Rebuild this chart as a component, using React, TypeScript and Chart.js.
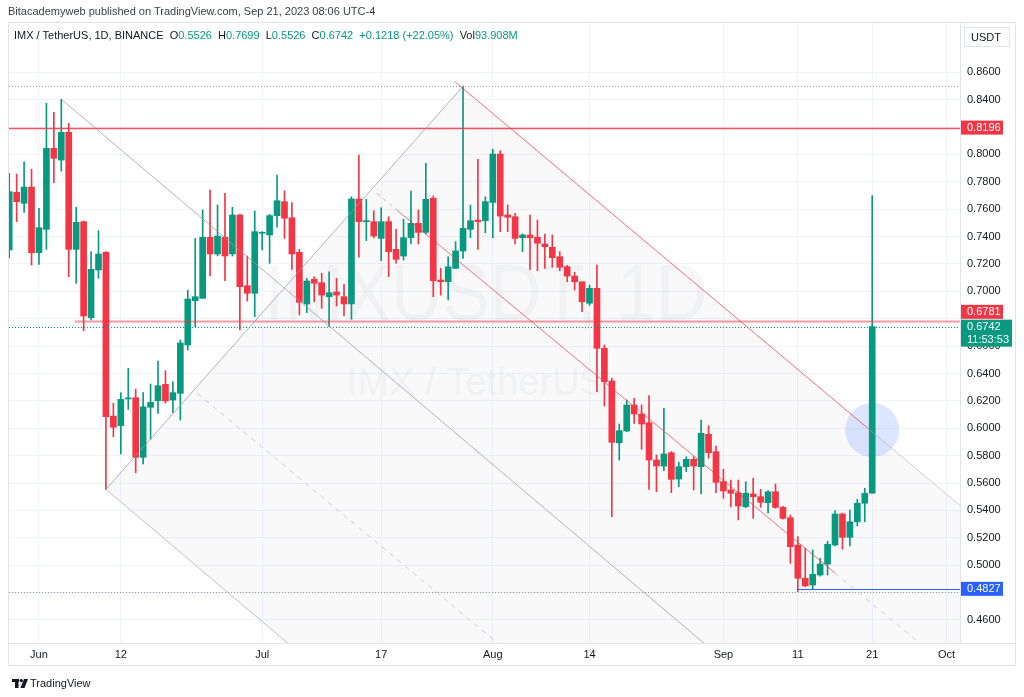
import React, { useEffect, useRef } from 'react';
import { Chart, registerables } from 'chart.js';

Chart.register(...registerables);

const FONT = "'Liberation Sans', Arial, sans-serif";
const UP = '#089981';
const DOWN = '#f23645';

// Day index 0 = 2023-06-01; first candle is 2023-05-28 (day -4)
const FIRST_DAY = -4;

const opens = [
  0.7302, 0.7723, 0.7643, 0.7762, 0.7282, 0.7453, 0.8045, 0.7959, 0.8162, 0.7307,
  0.7509, 0.6807, 0.7156, 0.7285, 0.6089, 0.6019, 0.6214, 0.6223, 0.5788, 0.6153,
  0.6201, 0.6321, 0.6206, 0.6255, 0.6608, 0.6932, 0.6949, 0.7395, 0.7273, 0.7395,
  0.7273, 0.7558, 0.7041, 0.6986, 0.7424, 0.7412, 0.7553, 0.7655, 0.7538, 0.7285,
  0.6908, 0.7088, 0.7063, 0.6961, 0.6995, 0.6961, 0.6908, 0.7675, 0.7509, 0.7509,
  0.7387, 0.7509, 0.7307, 0.7258, 0.7392, 0.7497, 0.7431, 0.7680, 0.7083, 0.7070,
  0.7168, 0.7295, 0.7453, 0.7521, 0.7516, 0.7650, 0.8003, 0.7558, 0.7545, 0.7392,
  0.7412, 0.7395, 0.7346, 0.7322, 0.7253, 0.7180, 0.7112, 0.7070, 0.6913, 0.7022,
  0.6584, 0.6345, 0.5894, 0.5980, 0.6170, 0.6104, 0.6040, 0.5768, 0.5724, 0.5821,
  0.5629, 0.5719, 0.5773, 0.5719, 0.5956, 0.5829, 0.5610, 0.5549, 0.5529, 0.5427,
  0.5520, 0.5500, 0.5456, 0.5536, 0.5422, 0.5346, 0.5147, 0.4904, 0.4855, 0.4928,
  0.5008, 0.5147, 0.5374, 0.5203, 0.5317, 0.5452, 0.5526,
];
const highs = [
  0.7862, 0.7857, 0.7947, 0.7891, 0.7607, 0.8374, 0.8308, 0.8403, 0.8227, 0.7614,
  0.7514, 0.7290, 0.7443, 0.7290, 0.6182, 0.6260, 0.6438, 0.6285, 0.6260, 0.6323,
  0.6491, 0.6420, 0.6340, 0.6645, 0.7010, 0.7387, 0.7594, 0.7740, 0.7631, 0.7716,
  0.7614, 0.7563, 0.7258, 0.7587, 0.7436, 0.7563, 0.7850, 0.7735, 0.7648, 0.7307,
  0.7095, 0.7107, 0.7132, 0.7143, 0.7095, 0.7051, 0.7691, 0.7996, 0.7672, 0.7589,
  0.7611, 0.7545, 0.7453, 0.7526, 0.7733, 0.7594, 0.7935, 0.7697, 0.7168, 0.7253,
  0.7363, 0.8499, 0.7631, 0.7964, 0.7691, 0.8038, 0.8027, 0.7631, 0.7570, 0.7420,
  0.7558, 0.7521, 0.7419, 0.7412, 0.7290, 0.7190, 0.7140, 0.7070, 0.7046, 0.7192,
  0.6608, 0.6365, 0.6031, 0.6206, 0.6219, 0.6170, 0.6238, 0.5805, 0.6146, 0.5830,
  0.5751, 0.5792, 0.5792, 0.6060, 0.6018, 0.5870, 0.5700, 0.5622, 0.5622, 0.5610,
  0.5634, 0.5554, 0.5545, 0.5593, 0.5430, 0.5366, 0.5208, 0.5123, 0.5111, 0.5050,
  0.5175, 0.5398, 0.5380, 0.5403, 0.5481, 0.5561, 0.7699,
];
const lows = [
  0.7244, 0.7509, 0.7577, 0.7192, 0.7197, 0.7307, 0.7794, 0.7879, 0.7107, 0.7059,
  0.6712, 0.6791, 0.7095, 0.5554, 0.5938, 0.5812, 0.6138, 0.5675, 0.5739, 0.5920,
  0.6109, 0.6185, 0.6113, 0.6060, 0.6572, 0.6742, 0.6949, 0.7112, 0.7259, 0.7078,
  0.7258, 0.6718, 0.6929, 0.6815, 0.7302, 0.7205, 0.7468, 0.7387, 0.7161, 0.6827,
  0.6844, 0.6924, 0.6876, 0.6742, 0.6893, 0.6820, 0.6796, 0.7249, 0.7370, 0.7390,
  0.7224, 0.7107, 0.7205, 0.7229, 0.7346, 0.7346, 0.7420, 0.6961, 0.6973, 0.6937,
  0.7168, 0.7241, 0.7392, 0.7307, 0.7428, 0.7392, 0.7436, 0.7436, 0.7346, 0.7290,
  0.7156, 0.7151, 0.7168, 0.7175, 0.7151, 0.7070, 0.7010, 0.6851, 0.6898, 0.6267,
  0.6162, 0.5354, 0.5768, 0.5975, 0.6036, 0.5846, 0.5554, 0.5537, 0.5690, 0.5529,
  0.5573, 0.5683, 0.5549, 0.5520, 0.5780, 0.5529, 0.5488, 0.5425, 0.5330, 0.5420,
  0.5342, 0.5422, 0.5379, 0.5415, 0.5335, 0.5013, 0.4807, 0.4843, 0.4827, 0.4920,
  0.4928, 0.5140, 0.5116, 0.5140, 0.5286, 0.5317, 0.5526,
];
const closes = [
  0.7728, 0.7655, 0.7762, 0.7282, 0.7465, 0.8045, 0.7972, 0.8162, 0.7307, 0.7504,
  0.6820, 0.7161, 0.7273, 0.6084, 0.6007, 0.6211, 0.6222, 0.5788, 0.6157, 0.6189,
  0.6311, 0.6199, 0.6260, 0.6623, 0.6944, 0.6961, 0.7395, 0.7273, 0.7404, 0.7258,
  0.7558, 0.7034, 0.6986, 0.7436, 0.7428, 0.7553, 0.7662, 0.7534, 0.7273, 0.6920,
  0.7076, 0.7059, 0.6973, 0.6990, 0.6973, 0.6908, 0.7675, 0.7509, 0.7512, 0.7404,
  0.7509, 0.7290, 0.7234, 0.7392, 0.7497, 0.7431, 0.7672, 0.7078, 0.7070, 0.7180,
  0.7295, 0.7460, 0.7516, 0.7509, 0.7655, 0.8003, 0.7550, 0.7541, 0.7387, 0.7412,
  0.7392, 0.7351, 0.7326, 0.7246, 0.7176, 0.7112, 0.7070, 0.6924, 0.7022, 0.6584,
  0.6340, 0.5897, 0.5982, 0.6170, 0.6104, 0.6031, 0.5768, 0.5724, 0.5812, 0.5627,
  0.5719, 0.5773, 0.5724, 0.5963, 0.5821, 0.5605, 0.5542, 0.5525, 0.5432, 0.5525,
  0.5500, 0.5459, 0.5536, 0.5422, 0.5342, 0.5135, 0.4904, 0.4848, 0.4933, 0.5008,
  0.5152, 0.5374, 0.5203, 0.5317, 0.5452, 0.5524, 0.6742,
];

const xTickDays = [0, 11, 30, 46, 61, 74, 92, 102, 112, 122];
const xTickLabels = ['Jun', '12', 'Jul', '17', 'Aug', '14', 'Sep', '11', '21', 'Oct'];
const yTickValues = [
  0.46, 0.48, 0.5, 0.52, 0.54, 0.56, 0.58, 0.6, 0.62, 0.64, 0.66,
  0.68, 0.7, 0.72, 0.74, 0.76, 0.78, 0.8, 0.82, 0.84, 0.86,
];
const hiddenTickLabels = [0.48, 0.68, 0.82];

// Drawing anchors [day, price]
const resistanceLevel = 0.8196;
const supportLevel = 0.6781;
const lastPrice = 0.6742;
const lowLevel = 0.4827;
const swingHigh = 0.8499;
const swingLow = 0.4807;
const lineA = [[3, 0.8403], [95, 0.4171]];
const lineB = [[9, 0.5554], [57, 0.8499]];
const lineC = [[9, 0.5554], [60, 0.3208]];
const lineDRed = [[55.9, 0.8531], [111.7, 0.5987]];
const lineDGray = [[111.7, 0.5987], [125, 0.5381]];
const lineEDashed = [[21.3, 0.6255], [62, 0.4415]];
const lineFDash1 = [[45.4, 0.7716], [48.1, 0.7594]];
const lineFRed = [[48.1, 0.7594], [107, 0.4943]];
const lineFDash2 = [[107, 0.4943], [122, 0.4268]];
const channelFill = [[9, 0.5554], [57, 0.8499], [125, 0.5381], [125, 0.40], [42.8, 0.40]];
const circleCenter = [112, 0.5987];

const X_MIN = -4.03;
const X_MAX = 123.8;
const Y_MIN = 0.44313;
const Y_MAX = 0.89602;

const drawingsPlugin = {
  id: 'drawings',
  beforeDatasetsDraw(chart: any) {
    const { ctx, chartArea: a, scales } = chart;
    const px = (d: number) => scales.x.getPixelForValue(d);
    const py = (p: number) => scales.y.getPixelForValue(p);
    ctx.save();
    ctx.beginPath();
    ctx.rect(a.left, a.top, a.right - a.left, a.bottom - a.top);
    ctx.clip();
    // watermark
    ctx.fillStyle = 'rgba(120,128,150,0.065)';
    ctx.textAlign = 'center';
    ctx.textBaseline = 'alphabetic';
    ctx.font = `80px ${FONT}`;
    ctx.fillText('IMXUSDT, 1D', 486, 320, 443);
    ctx.font = `39px ${FONT}`;
    ctx.fillText('IMX / TetherUS', 476, 395, 258);
    // channel fill
    ctx.beginPath();
    channelFill.forEach(([d, p], i) => {
      if (i === 0) ctx.moveTo(px(d), py(p));
      else ctx.lineTo(px(d), py(p));
    });
    ctx.closePath();
    ctx.fillStyle = 'rgba(120,123,134,0.045)';
    ctx.fill();
    // highlight circle
    ctx.beginPath();
    ctx.arc(px(circleCenter[0]), py(circleCenter[1]), 27, 0, Math.PI * 2);
    ctx.fillStyle = 'rgba(41,98,255,0.16)';
    ctx.fill();
    ctx.restore();
  },
  afterDatasetsDraw(chart: any) {
    const { ctx, chartArea: a, scales } = chart;
    const px = (d: number) => scales.x.getPixelForValue(d);
    const py = (p: number) => scales.y.getPixelForValue(p);
    ctx.save();
    ctx.beginPath();
    ctx.rect(a.left, a.top, a.right - a.left, a.bottom - a.top);
    ctx.clip();
    const seg = (pts: number[][], color: string, w: number, dash: number[]) => {
      ctx.beginPath();
      ctx.setLineDash(dash);
      ctx.strokeStyle = color;
      ctx.lineWidth = w;
      ctx.moveTo(px(pts[0][0]), py(pts[0][1]));
      ctx.lineTo(px(pts[1][0]), py(pts[1][1]));
      ctx.stroke();
    };
    const hline = (p: number, x0: number, color: string, w: number, dash: number[]) => {
      const y = Math.round(py(p)) + 0.5;
      ctx.beginPath();
      ctx.setLineDash(dash);
      ctx.strokeStyle = color;
      ctx.lineWidth = w;
      ctx.moveTo(x0, y);
      ctx.lineTo(a.right, y);
      ctx.stroke();
    };
    hline(swingHigh, a.left, '#9598a1', 1, [1, 2]);
    hline(swingLow, a.left, '#9598a1', 1, [1, 2]);
    hline(lastPrice, a.left, UP, 1, [1, 2]);
    hline(resistanceLevel, a.left, 'rgba(242,54,69,0.85)', 1.3, []);
    hline(supportLevel, px(4.8), 'rgba(242,54,69,0.5)', 2, []);
    hline(lowLevel, px(102), '#2962ff', 1, []);
    const gray = 'rgba(150,153,163,0.75)';
    seg(lineA, gray, 1, []);
    seg(lineB, gray, 1, []);
    seg(lineC, 'rgba(150,153,163,0.6)', 1, []);
    seg(lineEDashed, 'rgba(170,173,182,0.6)', 1, [5, 5]);
    seg(lineDRed, 'rgba(242,54,69,0.7)', 1, []);
    seg(lineDGray, 'rgba(170,173,182,0.55)', 1, []);
    seg(lineFDash1, 'rgba(170,173,182,0.7)', 1, [4, 4]);
    seg(lineFRed, 'rgba(242,54,69,0.7)', 1, []);
    seg(lineFDash2, 'rgba(170,173,182,0.6)', 1, [5, 5]);
    ctx.restore();
  },
  afterDraw(chart: any) {
    const { ctx, chartArea: a, scales } = chart;
    const py = (p: number) => scales.y.getPixelForValue(p);
    ctx.save();
    ctx.setLineDash([]);
    // separators
    ctx.strokeStyle = '#e0e3eb';
    ctx.lineWidth = 1;
    ctx.beginPath();
    ctx.moveTo(a.right + 0.5, a.top);
    ctx.lineTo(a.right + 0.5, a.bottom);
    ctx.moveTo(a.left, a.bottom + 0.5);
    ctx.lineTo(1016, a.bottom + 0.5);
    ctx.stroke();
    // outer frame
    ctx.strokeRect(8.5, 22.5, 1007, 643);
    // price tags
    const tag = (top: number, h: number, w: number, bg: string, lines: string[]) => {
      ctx.fillStyle = bg;
      ctx.fillRect(a.right + 1, top, w, h);
      ctx.fillStyle = '#ffffff';
      ctx.font = `11px ${FONT}`;
      ctx.textAlign = 'left';
      ctx.textBaseline = 'middle';
      lines.forEach((t, i) => ctx.fillText(t, a.right + 7, top + 7.5 + i * 13));
    };
    tag(py(resistanceLevel) - 7, 14, 42, DOWN, [resistanceLevel.toFixed(4)]);
    tag(py(supportLevel) - 16.5, 14, 42, DOWN, [supportLevel.toFixed(4)]);
    tag(py(lastPrice) - 7, 27, 51, UP, [lastPrice.toFixed(4), '11:53:53']);
    tag(py(lowLevel) - 7, 14, 42, '#2962ff', [lowLevel.toFixed(4)]);
    // currency button
    ctx.fillStyle = '#ffffff';
    ctx.fillRect(964, 27, 46, 20);
    ctx.strokeStyle = '#e0e3eb';
    ctx.strokeRect(964.5, 27.5, 45, 19);
    ctx.fillStyle = '#131722';
    ctx.font = `11px ${FONT}`;
    ctx.textAlign = 'left';
    ctx.textBaseline = 'middle';
    ctx.fillText('USDT', 971, 37.5);
    ctx.restore();
  },
};

export default function App() {
  const canvasRef = useRef<HTMLCanvasElement | null>(null);

  useEffect(() => {
    if (!canvasRef.current) return;
    const bodies = opens.map((o, i) => ({ x: FIRST_DAY + i, y: [o, closes[i]] }));
    const wicks = lows.map((l, i) => ({ x: FIRST_DAY + i, y: [l, highs[i]] }));
    const colors = opens.map((o, i) => (closes[i] >= o ? UP : DOWN));
    const chart = new Chart(canvasRef.current, {
      type: 'bar',
      data: {
        datasets: [
          {
            data: bodies as any,
            backgroundColor: colors,
            barThickness: 6,
            grouped: false,
            minBarLength: 1,
            borderWidth: 0,
          } as any,
          {
            data: wicks as any,
            backgroundColor: colors,
            barThickness: 1,
            grouped: false,
            borderWidth: 0,
          } as any,
        ],
      },
      options: {
        animation: false,
        responsive: false,
        maintainAspectRatio: false,
        events: [],
        layout: { padding: { left: 9, top: 23, right: 8, bottom: 32 } },
        plugins: { legend: { display: false }, tooltip: { enabled: false } },
        scales: {
          x: {
            type: 'linear',
            min: X_MIN,
            max: X_MAX,
            offset: false,
            grid: { color: '#f0f3fa', drawTicks: false, offset: false },
            border: { display: false },
            afterBuildTicks: (s: any) => {
              s.ticks = xTickDays.map((v) => ({ value: v }));
            },
            afterFit: (s: any) => {
              s.height = 22;
            },
            ticks: {
              autoSkip: false,
              maxRotation: 0,
              padding: 5,
              color: '#131722',
              font: { family: FONT, size: 11 },
              callback: (_v: any, i: number) => xTickLabels[i],
            },
          } as any,
          y: {
            type: 'linear',
            position: 'right',
            min: Y_MIN,
            max: Y_MAX,
            beginAtZero: false,
            grid: { color: '#f0f3fa', drawTicks: false },
            border: { display: false },
            afterBuildTicks: (s: any) => {
              s.ticks = yTickValues.map((v) => ({ value: v }));
            },
            afterFit: (s: any) => {
              s.width = 56;
            },
            ticks: {
              padding: 7,
              color: '#131722',
              font: { family: FONT, size: 11 },
              callback: (v: any) => {
                const n = Number(v);
                return hiddenTickLabels.some((h) => Math.abs(h - n) < 1e-6) ? '' : n.toFixed(4);
              },
            },
          } as any,
        },
      },
      plugins: [drawingsPlugin],
    });
    return () => chart.destroy();
  }, []);

  const green = { color: UP };
  return (
    <div
      style={{
        position: 'absolute',
        left: 0,
        top: 0,
        width: 1024,
        height: 697,
        background: '#ffffff',
        overflow: 'hidden',
        fontFamily: FONT,
      }}
    >
      <canvas ref={canvasRef} width={1024} height={697} style={{ position: 'absolute', left: 0, top: 0 }} />
      <div style={{ position: 'absolute', left: 8, top: 5, fontSize: 11, color: '#3b3e48', whiteSpace: 'nowrap' }}>
        Bitacademyweb published on TradingView.com, Sep 21, 2023 08:06 UTC-4
      </div>
      <div style={{ position: 'absolute', left: 14, top: 29, fontSize: 11, color: '#131722', whiteSpace: 'nowrap' }}>
        IMX / TetherUS, 1D, BINANCE&nbsp;&nbsp;O<span style={green}>0.5526</span>&nbsp;&nbsp;H
        <span style={green}>0.7699</span>&nbsp;&nbsp;L<span style={green}>0.5526</span>&nbsp;&nbsp;C
        <span style={green}>0.6742</span>&nbsp;&nbsp;<span style={green}>+0.1218 (+22.05%)</span>&nbsp;&nbsp;Vol
        <span style={green}>93.908M</span>
      </div>
      <div style={{ position: 'absolute', left: 12, top: 677, display: 'flex', alignItems: 'center' }}>
        <svg width="16" height="11" viewBox="0 0 16 11">
          <rect x="0" y="1" width="7" height="3" fill="#131722" />
          <rect x="3" y="1" width="3.5" height="9" fill="#131722" />
          <circle cx="9.3" cy="2.6" r="1.7" fill="#131722" />
          <polygon points="12,1 16,1 12.5,10 8.5,10" fill="#131722" />
        </svg>
        <span style={{ marginLeft: 2, fontSize: 11, color: '#131722' }}>TradingView</span>
      </div>
    </div>
  );
}
